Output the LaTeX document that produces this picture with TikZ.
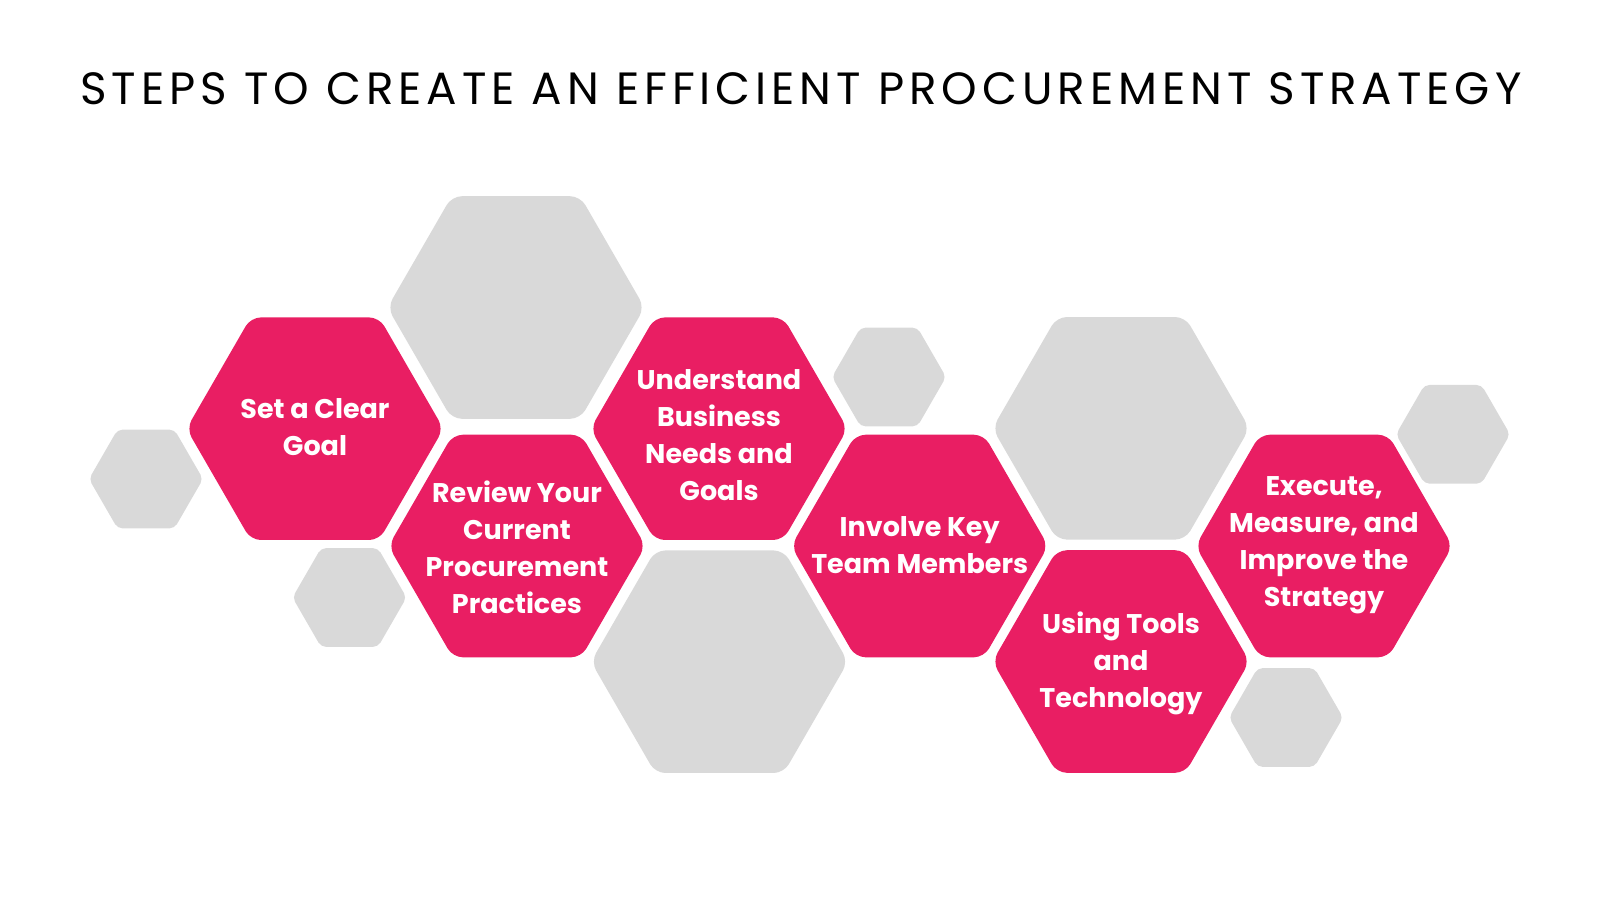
\documentclass[tikz,border=0pt]{standalone}
\usepackage{fontspec}
\setmainfont{Poppins}
\newfontfamily\titlefont[LetterSpace=11]{Poppins}
\definecolor{hexpink}{HTML}{E91E63}
\definecolor{hexgrey}{HTML}{D9D9D9}
\tikzset{
  pics/bighex/.style={code={\fill[rounded corners=5pt,#1] (0:128.5) -- (60:128.5) -- (120:128.5) -- (180:128.5) -- (240:128.5) -- (300:128.5) -- cycle;}},
  pics/smallhex/.style={code={\fill[rounded corners=2.5pt,#1] (0:57) -- (60:57) -- (120:57) -- (180:57) -- (240:57) -- (300:57) -- cycle;}},
  steplabel/.style={text=white, align=center, font=\bfseries\fontsize{13.5}{18.5}\selectfont, inner sep=0pt},
  titletext/.style={text=black, font=\titlefont\fontsize{22.6}{27}\selectfont, inner sep=0pt}
}
\begin{document}
\begin{tikzpicture}[x=0.5pt,y=-0.5pt]
\useasboundingbox (0,0) rectangle (1600,900);
% grey hexagons
\pic at (516,307.5) {bighex=hexgrey};
\pic at (719.5,661.7) {bighex=hexgrey};
\pic at (1121,428.3) {bighex=hexgrey};
\pic at (146,479) {smallhex=hexgrey};
\pic at (349.5,597.5) {smallhex=hexgrey};
\pic at (889,377) {smallhex=hexgrey};
\pic at (1453,434.3) {smallhex=hexgrey};
\pic at (1286,717.5) {smallhex=hexgrey};
% pink hexagons
\pic at (315,428.7) {bighex=hexpink};
\pic at (517,546) {bighex=hexpink};
\pic at (719,428.7) {bighex=hexpink};
\pic at (919.7,546) {bighex=hexpink};
\pic at (1121,661.5) {bighex=hexpink};
\pic at (1324,546) {bighex=hexpink};
% labels
\node[steplabel] (s1) at (315,427) {Set a Clear\\Goal};
\node[steplabel] (s2) at (517,547) {Review Your\\Current\\Procurement\\Practices};
\node[steplabel] (s3) at (719,435) {Understand\\Business\\Needs and\\Goals};
\node[steplabel] (s4) at (919.7,545) {Involve Key\\Team Members};
\node[steplabel] (s5) at (1121,663) {Using Tools\\and\\Technology};
\node[steplabel] (s6) at (1324,545) {Execute,\\Measure, and\\Improve the\\Strategy};
% title
\node[titletext] (title) at (801,89) {STEPS TO CREATE AN EFFICIENT PROCUREMENT STRATEGY};
\end{tikzpicture}
\end{document}
